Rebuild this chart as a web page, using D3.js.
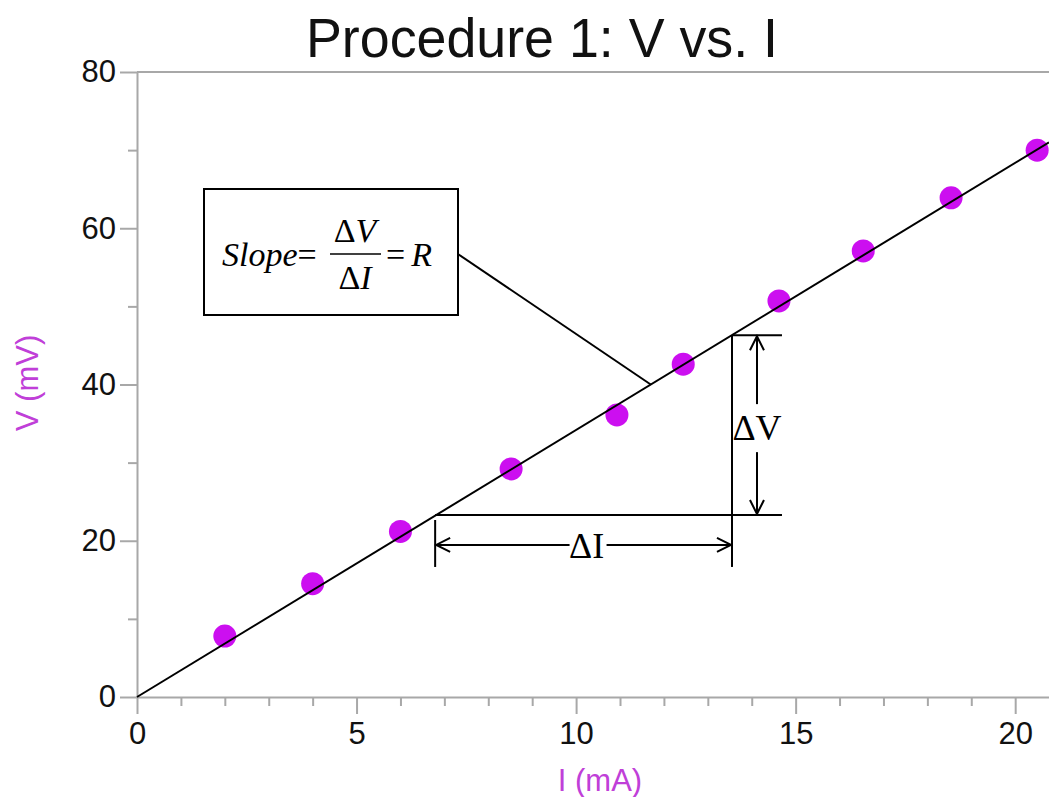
<!DOCTYPE html>
<html>
<head>
<meta charset="utf-8">
<script src="https://cdn.jsdelivr.net/npm/d3@7"></script>
<style>
	body { margin: 0; background: #fff; }
	svg { display: block; }
</style>
</head>
<body>
<div id="viGraph"></div>
<script>
// measured points, I in mA and V in mV
var currentMA = [2.0, 4.0, 6.0, 8.52, 10.93, 12.44, 14.62, 16.54, 18.54, 20.5];
var voltageMV = [7.8, 14.5, 21.2, 29.2, 36.1, 42.6, 50.7, 57.1, 63.9, 70.0];

var xMajorTicks = [0, 5, 10, 15, 20];
var xMinorTicks = [1, 2, 3, 4, 6, 7, 8, 9, 11, 12, 13, 14, 16, 17, 18, 19];
var yMajorTicks = [0, 20, 40, 60, 80];
var yMinorTicks = [10, 30, 50, 70];

// best fit line through origin
var fitLine = [[0, 0], [20.77, 71.0]];
// rise/run triangle
var deltaI = [6.79, 13.55];
var deltaV = [23.3, 46.3];
var leaderPoint = [11.7, 40.0];

var svgWidth = 1049;
var svgHeight = 797;
var plotLeft = 137, plotRight = 1049, plotTop = 72, plotBottom = 697;
var axisColor = "#a8a8a8";
var labelColor = "#c03fd8";
var dotColor = "#cc0ff0";
var sans = "'Liberation Sans', Arial, sans-serif";
var serif = "'Liberation Serif', 'Times New Roman', serif";

var svg = d3.select("#viGraph")
	.append("svg")
	.attr("width", svgWidth)
	.attr("height", svgHeight);

var x = d3.scaleLinear()
	.domain([0, 20.77])
	.range([plotLeft, plotRight]);
var y = d3.scaleLinear()
	.domain([0, 80])
	.range([plotBottom, plotTop]);

// title
svg.append("text")
	.attr("x", 542)
	.attr("y", 57)
	.attr("text-anchor", "middle")
	.attr("textLength", 472)
	.attr("lengthAdjust", "spacingAndGlyphs")
	.style("font-family", sans)
	.style("font-size", "55px")
	.style("fill", "#111")
	.text("Procedure 1: V vs. I");

// top frame line
svg.append("line")
	.attr("x1", plotLeft).attr("x2", plotRight)
	.attr("y1", plotTop).attr("y2", plotTop)
	.attr("stroke", axisColor)
	.attr("stroke-width", 2);

// x axis
svg.append("g")
	.attr("transform", "translate(0," + plotBottom + ")")
	.call(d3.axisBottom(x).tickValues(xMajorTicks).tickSize(17).tickPadding(8).tickSizeOuter(0));
svg.append("g")
	.attr("transform", "translate(0," + plotBottom + ")")
	.call(d3.axisBottom(x).tickValues(xMinorTicks).tickSize(9).tickFormat("").tickSizeOuter(0))
	.select(".domain").remove();

// y axis
svg.append("g")
	.attr("transform", "translate(" + plotLeft + ",0)")
	.call(d3.axisLeft(y).tickValues(yMajorTicks).tickSize(17).tickPadding(4).tickSizeOuter(0));
svg.append("g")
	.attr("transform", "translate(" + plotLeft + ",0)")
	.call(d3.axisLeft(y).tickValues(yMinorTicks).tickSize(9).tickFormat("").tickSizeOuter(0))
	.select(".domain").remove();

svg.selectAll(".domain, .tick line")
	.attr("stroke", axisColor)
	.attr("stroke-width", 2);
svg.selectAll(".tick text")
	.style("font-family", sans)
	.style("font-size", "31px")
	.style("fill", "#111");

// axis titles
svg.append("text")
	.attr("x", 600)
	.attr("y", 791)
	.attr("text-anchor", "middle")
	.style("font-family", sans)
	.style("font-size", "31px")
	.style("fill", labelColor)
	.text("I (mA)");
svg.append("text")
	.attr("transform", "translate(38,383) rotate(-90)")
	.attr("text-anchor", "middle")
	.style("font-family", sans)
	.style("font-size", "31px")
	.style("fill", labelColor)
	.text("V (mV)");

// data points
svg.selectAll("circle.pt")
	.data(currentMA)
	.enter()
	.append("circle")
	.attr("class", "pt")
	.attr("cx", (d) => x(d))
	.attr("cy", (d, i) => y(voltageMV[i]))
	.attr("r", 11.5)
	.attr("fill", dotColor);

// fit line
var line = d3.line()
	.x((d) => x(d[0]))
	.y((d) => y(d[1]));
svg.append("path")
	.datum(fitLine)
	.attr("d", line)
	.attr("fill", "none")
	.attr("stroke", "#000")
	.attr("stroke-width", 2);

//Annotations
var defs = svg.append("defs");
defs.append("marker")
	.attr("id", "arrow")
	.attr("viewBox", "-16 -8 18 16")
	.attr("refX", 0)
	.attr("refY", 0)
	.attr("markerWidth", 18)
	.attr("markerHeight", 16)
	.attr("markerUnits", "userSpaceOnUse")
	.attr("orient", "auto")
	.append("path")
	.attr("d", "M-14,-7L0,0L-14,7")
	.attr("fill", "none")
	.attr("stroke", "#000")
	.attr("stroke-width", 2);

var ann = svg.append("g")
	.attr("stroke", "#000")
	.attr("stroke-width", 2);

var x0 = x(deltaI[0]), x1 = x(deltaI[1]);
var y0 = y(deltaV[0]), y1 = y(deltaV[1]);

// run and rise lines
ann.append("line").attr("x1", x0).attr("x2", x1 + 50).attr("y1", y0).attr("y2", y0);
ann.append("line").attr("x1", x1).attr("x2", x1 + 50).attr("y1", y1).attr("y2", y1);
ann.append("line").attr("x1", x1).attr("x2", x1).attr("y1", y1).attr("y2", y0 + 52);
ann.append("line").attr("x1", x0).attr("x2", x0).attr("y1", y0 + 5).attr("y2", y0 + 52);

// delta V arrow
var avx = x1 + 25;
var avMid = (y0 + y1) / 2 + 3;
ann.append("line").attr("x1", avx).attr("x2", avx).attr("y1", avMid - 24).attr("y2", y1 + 1)
	.attr("marker-end", "url(#arrow)");
ann.append("line").attr("x1", avx).attr("x2", avx).attr("y1", avMid + 24).attr("y2", y0 - 1)
	.attr("marker-end", "url(#arrow)");
svg.append("text")
	.attr("x", avx)
	.attr("y", avMid + 12)
	.attr("text-anchor", "middle")
	.style("font-family", serif)
	.style("font-size", "36px")
	.text("\u0394V");

// delta I arrow
var aiy = y0 + 30;
var aiMid = (x0 + x1) / 2 + 3;
ann.append("line").attr("x1", aiMid - 17).attr("x2", x0 + 1).attr("y1", aiy).attr("y2", aiy)
	.attr("marker-end", "url(#arrow)");
ann.append("line").attr("x1", aiMid + 20).attr("x2", x1 - 1).attr("y1", aiy).attr("y2", aiy)
	.attr("marker-end", "url(#arrow)");
svg.append("text")
	.attr("x", aiMid)
	.attr("y", aiy + 13)
	.attr("text-anchor", "middle")
	.style("font-family", serif)
	.style("font-size", "36px")
	.text("\u0394I");

// slope box
var box = {x: 204, y: 189, w: 254, h: 126};
svg.append("rect")
	.attr("x", box.x)
	.attr("y", box.y)
	.attr("width", box.w)
	.attr("height", box.h)
	.attr("fill", "#fff")
	.attr("stroke", "#000")
	.attr("stroke-width", 2);

ann.append("line")
	.attr("x1", box.x + box.w - 6)
	.attr("y1", 250)
	.attr("x2", x(leaderPoint[0]))
	.attr("y2", y(leaderPoint[1]));

var eq = svg.append("g")
	.style("font-family", serif)
	.style("font-size", "34px")
	.style("fill", "#000");
var t1 = eq.append("text").attr("x", 222).attr("y", 266);
t1.append("tspan").style("font-style", "italic").text("Slope");
t1.append("tspan").text("=");
var num = eq.append("text").attr("x", 355).attr("y", 242).attr("text-anchor", "middle");
num.append("tspan").text("\u0394");
num.append("tspan").style("font-style", "italic").text("V");
var den = eq.append("text").attr("x", 355).attr("y", 289).attr("text-anchor", "middle");
den.append("tspan").text("\u0394");
den.append("tspan").style("font-style", "italic").text("I");
eq.append("line")
	.attr("x1", 330).attr("x2", 381)
	.attr("y1", 254).attr("y2", 254)
	.attr("stroke", "#000")
	.attr("stroke-width", 1.5);
var t2 = eq.append("text").attr("x", 386).attr("y", 266);
t2.append("tspan").text("=");
t2.append("tspan").attr("dx", 6).style("font-style", "italic").text("R");
</script>
</body>
</html>
